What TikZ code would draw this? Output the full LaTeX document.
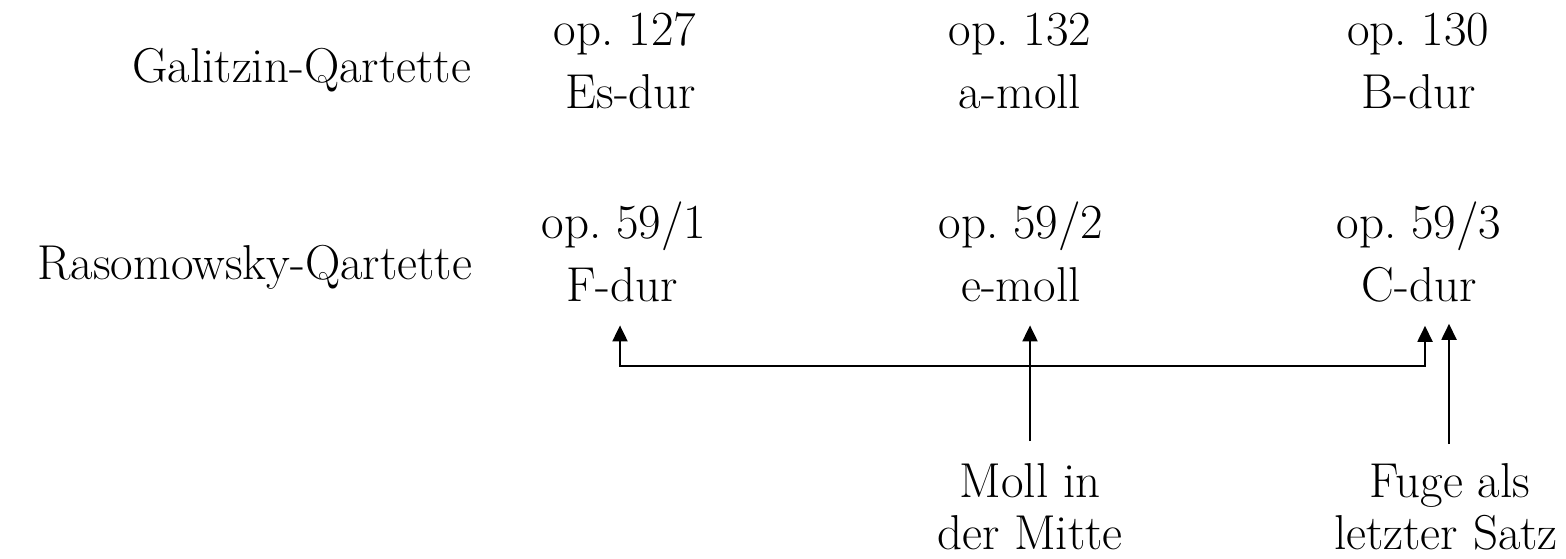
\documentclass[tikz,border=0pt]{standalone}
\usetikzlibrary{arrows.meta}
\begin{document}
\begin{tikzpicture}[x=0.5pt,y=-0.5pt,
  lbl/.style={inner sep=0pt, outer sep=0pt, anchor=base, font=\fontsize{24.5}{29}\selectfont},
  arr/.style={line width=1pt, arrows={-Triangle[length=8pt,width=7.5pt]}}]
\useasboundingbox (0,0) rectangle (1566,558);
% Galitzin row
\node[lbl,anchor=base east] (galitzin) at (471,82) {Galitzin-Qartette};
\node[lbl] (op127) at (625,45) {op.~127};
\node[lbl] (esdur) at (631,108) {Es-dur};
\node[lbl] (op132) at (1020,45) {op.~132};
\node[lbl] (amoll) at (1020,108) {a-moll};
\node[lbl] (op130) at (1418,45) {op.~130};
\node[lbl] (bdur) at (1419,108) {B-dur};
% Rasomowsky row
\node[lbl,anchor=base east] (raso) at (472,279) {Rasomowsky-Qartette};
\node[lbl] (op591) at (624,238) {op.~59/1};
\node[lbl] (fdur) at (622,301) {F-dur};
\node[lbl] (op592) at (1021,238) {op.~59/2};
\node[lbl] (emoll) at (1021,301) {e-moll};
\node[lbl] (op593) at (1419,238) {op.~59/3};
\node[lbl] (cdur) at (1419,301) {C-dur};
% bottom notes
\node[lbl] (moll1) at (1030,497) {Moll in};
\node[lbl] (moll2) at (1030,549) {der Mitte};
\node[lbl] (fuge1) at (1450,497) {Fuge als};
\node[lbl] (fuge2) at (1446,549) {letzter Satz};
% connectors
\coordinate (hl) at (620,366);
\coordinate (hr) at (1425,366);
\coordinate (mb) at (1030,441);
\coordinate (fb) at (1449,444);
\draw[arr,arrows={Triangle[length=8pt,width=7.5pt]-Triangle[length=8pt,width=7.5pt]},shorten <=12pt,shorten >=12pt]
  (fdur.south -| hl) -- (hl) -- (hr) -- (cdur.south -| hr);
\draw[arr,shorten >=12pt] (mb) -- (emoll.south -| mb);
\draw[arr,shorten >=11pt] (fb) -- (cdur.south -| fb);
\end{tikzpicture}
\end{document}
